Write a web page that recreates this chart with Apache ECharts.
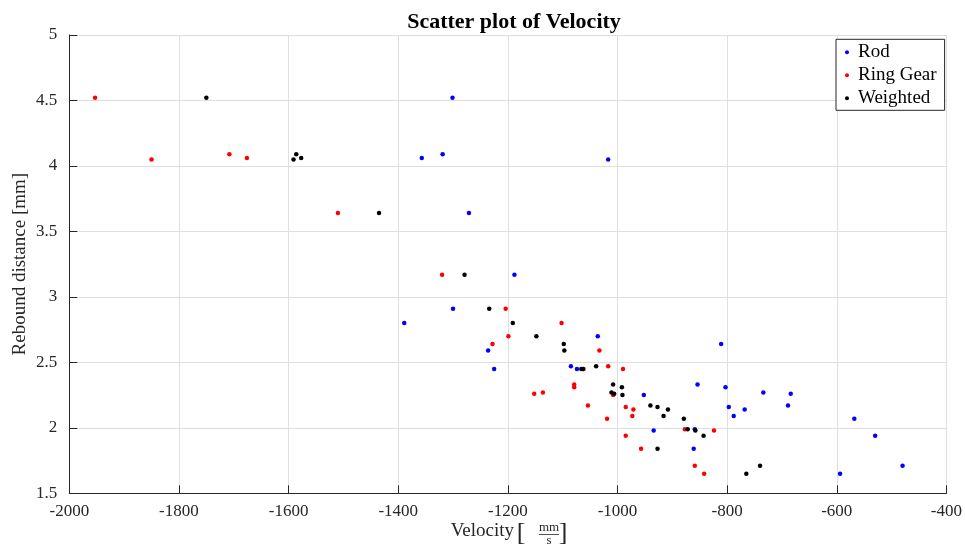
<!DOCTYPE html>
<html>
<head>
<meta charset="utf-8">
<script src="https://cdn.jsdelivr.net/npm/echarts@6/dist/echarts.min.js"></script>
<style>html,body{margin:0;padding:0;background:#fff}#c{width:965px;height:546px}</style>
</head>
<body>
<div id="c"></div>
<script>
// Rebound distance shared by the three series (mm)
var rebound = [4.52, 4.05, 4.09, 4.06, 3.64, 3.17, 2.91, 2.80, 2.70, 2.64, 2.59, 2.47, 2.45, 2.45, 2.33,
               2.31, 2.27, 2.26, 2.25, 2.17, 2.16, 2.14, 2.09, 2.07, 1.99, 1.98, 1.94, 1.84, 1.71, 1.65];
// Velocities (mm/s)
var rodVelocity = [-1301, -1017, -1319, -1357, -1271, -1188, -1300, -1389, -1036, -811, -1236, -1085, -1225, -1074, -854,
                   -803, -734, -684, -952, -689, -797, -768, -788, -568, -859, -934, -530, -861, -480, -594];
var ringGearVelocity = [-1953, -1850, -1708, -1676, -1510, -1320, -1204, -1102, -1199, -1228, -1033, -1017, -990, -1062, -1079,
                        -1079, -1136, -1152, -1008, -1054, -985, -971, -973, -1019, -877, -824, -985, -957, -859, -842];
var weightedVelocity = [-1750, -1591, -1586, -1577, -1435, -1279, -1234, -1191, -1148, -1098, -1097, -1039, -1066, -1063, -1008,
                        -992, -1011, -1006, -991, -940, -927, -908, -916, -879, -872, -858, -843, -927, -740, -765];
var seriesNames = ['Rod', 'Ring Gear', 'Weighted'];
var titleText = 'Scatter plot of Velocity';
var yAxisName = 'Rebound distance [mm]';

function pairs(xs, ys) { return xs.map(function (x, i) { return [x, ys[i]]; }); }

var SERIF = '"Liberation Serif", "Times New Roman", serif';
var AX = '#262626';
var GRID = '#dfdfdf';

var chart = echarts.init(document.getElementById('c'), null, {renderer: 'canvas'});
chart.setOption({
  backgroundColor: '#ffffff',
  animation: false,
  title: {
    text: titleText,
    left: 509, top: 7, textAlign: 'center',
    textStyle: {fontFamily: SERIF, fontWeight: 'bold', fontSize: 22, color: '#000', lineHeight: 20}
  },
  grid: {left: 69.3, right: 15.7, top: 35, bottom: 52.7, containLabel: false},
  legend: {
    left: 836, top: 39.3, orient: 'vertical',
    data: seriesNames,
    icon: 'circle', itemWidth: 12, itemHeight: 4, itemGap: 3,
    padding: [3, 8, 2, 9],
    backgroundColor: '#ffffff', borderColor: AX, borderWidth: 1, borderRadius: 0,
    textStyle: {fontFamily: SERIF, fontSize: 19, color: '#000', lineHeight: 20, padding: [0, 0, 0, 0]}
  },
  xAxis: {
    type: 'value', min: -2000, max: -400, interval: 200,
    axisLine: {show: true, onZero: false, lineStyle: {color: AX, width: 1}},
    axisTick: {show: true, inside: true, length: 8, lineStyle: {color: AX}},
    axisLabel: {fontFamily: SERIF, fontSize: 17, color: AX, margin: 10, formatter: function (v) { return String(v); }},
    splitLine: {show: true, lineStyle: {color: GRID, width: 1}}
  },
  yAxis: {
    type: 'value', min: 1.5, max: 5, interval: 0.5,
    name: yAxisName, nameLocation: 'middle', nameGap: 40, nameMoveOverlap: false,
    nameTextStyle: {fontFamily: SERIF, fontSize: 19, color: AX},
    axisLine: {show: true, onZero: false, lineStyle: {color: AX, width: 1}},
    axisTick: {show: true, inside: true, length: 8, lineStyle: {color: AX}},
    axisLabel: {fontFamily: SERIF, fontSize: 17, color: AX, margin: 12, formatter: function (v) { return String(v); }},
    splitLine: {show: true, lineStyle: {color: GRID, width: 1}}
  },
  series: [
    {name: seriesNames[0], type: 'scatter', symbol: 'circle', symbolSize: 4.5, itemStyle: {color: '#0000ff', opacity: 1}, data: pairs(rodVelocity, rebound)},
    {name: seriesNames[1], type: 'scatter', symbol: 'circle', symbolSize: 4.5, itemStyle: {color: '#ff0000', opacity: 1}, data: pairs(ringGearVelocity, rebound)},
    {name: seriesNames[2], type: 'scatter', symbol: 'circle', symbolSize: 4.5, itemStyle: {color: '#000000', opacity: 1}, data: pairs(weightedVelocity, rebound)}
  ],
  graphic: [
    {type: 'text', x: 514, y: 531, style: {text: 'Velocity', font: '19px ' + SERIF, fill: AX, align: 'right', verticalAlign: 'middle'}},
    {type: 'text', x: 521, y: 533, style: {text: '[', font: '26px ' + SERIF, fill: AX, align: 'center', verticalAlign: 'middle'}},
    {type: 'text', x: 549, y: 528, style: {text: 'mm', font: '13px ' + SERIF, fill: AX, align: 'center', verticalAlign: 'middle'}},
    {type: 'line', shape: {x1: 539, y1: 534.5, x2: 559, y2: 534.5}, style: {stroke: AX, lineWidth: 0.8}},
    {type: 'text', x: 549, y: 541, style: {text: 's', font: '13px ' + SERIF, fill: AX, align: 'center', verticalAlign: 'middle'}},
    {type: 'text', x: 563, y: 533, style: {text: ']', font: '26px ' + SERIF, fill: AX, align: 'center', verticalAlign: 'middle'}}
  ]
});
</script>
</body>
</html>
